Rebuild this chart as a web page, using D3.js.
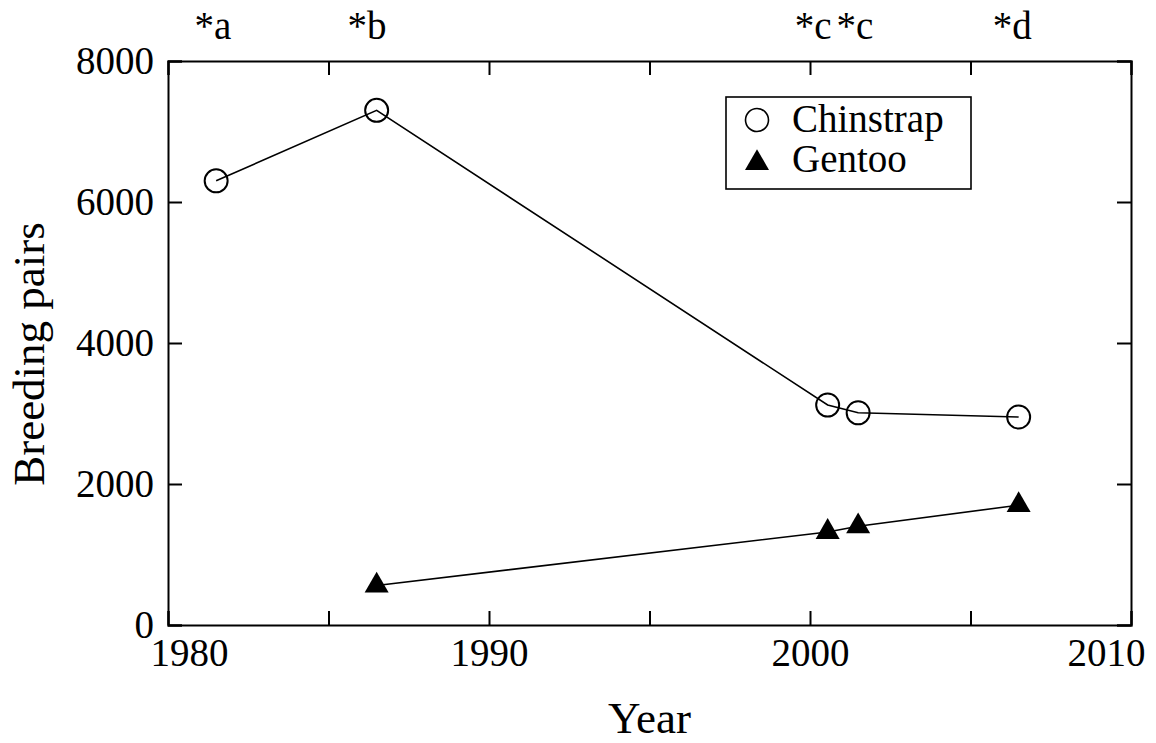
<!DOCTYPE html>
<html>
<head>
<meta charset="utf-8">
<script src="https://cdn.jsdelivr.net/npm/d3@7"></script>
<style>
  body { margin: 0; background: #fff; }
  svg text { font-family: "Liberation Serif", "Times New Roman", Times, "DejaVu Serif", serif !important; fill: #000; }
</style>
</head>
<body>
<div id="main"></div>
<script>
const ctx = {
    w: 1156,
    h: 743,
    left: 168,
    right: 1131,
    top: 61,
    bottom: 625
};

// data
const chinstrapYears = [1981.5, 1986.5, 2000.55, 2001.5, 2006.5];
const chinstrapPairs = [6300, 7300, 3120, 3010, 2950];
const gentooYears = [1986.5, 2000.55, 2001.5, 2006.5];
const gentooPairs = [560, 1320, 1400, 1700];
const noteLabels = ["*a", "*b", "*c", "*c", "*d"];
const noteYears = [1981.4, 1986.2, 2000.1, 2001.4, 2006.3];
const xTicks = [1980, 1985, 1990, 1995, 2000, 2005, 2010];
const yTicks = [0, 2000, 4000, 6000, 8000];

function createViz() {
    let svg = d3.select("#main").append("svg")
        .attr("width", ctx.w)
        .attr("height", ctx.h);

    let x = d3.scaleLinear().domain([1980, 2010]).range([ctx.left, ctx.right]);
    let y = d3.scaleLinear().domain([0, 8000]).range([ctx.bottom, ctx.top]);

    // axes, ticks pointing inward
    let bottomAxis = d3.axisBottom(x).tickValues(xTicks).tickSize(-14).tickPadding(13)
        .tickFormat(d => d % 10 == 0 ? d : "");
    let gb = svg.append("g").attr("transform", `translate(0,${ctx.bottom})`).call(bottomAxis);
    gb.selectAll("text")
        .attr("dx", d => d == 1980 ? 21 : (d == 2010 ? -25 : 0));

    svg.append("g").attr("transform", `translate(0,${ctx.top})`)
        .call(d3.axisTop(x).tickValues(xTicks).tickSize(-14).tickFormat(""));

    svg.append("g").attr("transform", `translate(${ctx.left},0)`)
        .call(d3.axisLeft(y).tickValues(yTicks).tickSize(-14).tickPadding(14).tickFormat(d3.format("d")));

    svg.append("g").attr("transform", `translate(${ctx.right},0)`)
        .call(d3.axisRight(y).tickValues(yTicks).tickSize(-14).tickFormat(""));

    svg.selectAll("g").attr("font-family", null);
    svg.selectAll(".domain").attr("stroke-width", 2);
    svg.selectAll(".tick line").attr("stroke-width", 2);
    svg.selectAll(".tick text").attr("font-size", 39);

    // axis titles
    svg.append("text")
        .attr("x", (ctx.left + ctx.right) / 2)
        .attr("y", 733)
        .attr("text-anchor", "middle")
        .attr("font-size", 45)
        .text("Year");

    svg.append("text")
        .attr("transform", "translate(44,354) rotate(-90)")
        .attr("text-anchor", "middle")
        .attr("font-size", 45)
        .text("Breeding pairs");

    // notes above the frame
    svg.selectAll(".note")
        .data(noteLabels)
        .enter()
        .append("text")
        .attr("class", "note")
        .attr("x", (d, i) => x(noteYears[i]))
        .attr("y", 39)
        .attr("text-anchor", "middle")
        .attr("font-size", 39)
        .text(d => d);

    let line = d3.line().x(d => x(d[0])).y(d => y(d[1]));
    let chin = chinstrapYears.map((yr, i) => [yr, chinstrapPairs[i]]);
    let gent = gentooYears.map((yr, i) => [yr, gentooPairs[i]]);

    svg.append("path").datum(chin).attr("d", line)
        .attr("fill", "none").attr("stroke", "black").attr("stroke-width", 1.6);
    svg.append("path").datum(gent).attr("d", line)
        .attr("fill", "none").attr("stroke", "black").attr("stroke-width", 1.6);

    svg.selectAll(".chin")
        .data(chin)
        .enter()
        .append("circle")
        .attr("class", "chin")
        .attr("cx", d => x(d[0]))
        .attr("cy", d => y(d[1]))
        .attr("r", 11.5)
        .attr("fill", "none")
        .attr("stroke", "black")
        .attr("stroke-width", 2);

    let tri = d3.symbol().type(d3.symbolTriangle).size(250);
    svg.selectAll(".gent")
        .data(gent)
        .enter()
        .append("path")
        .attr("class", "gent")
        .attr("transform", d => `translate(${x(d[0])},${y(d[1])})`)
        .attr("d", tri)
        .attr("fill", "black");

    // legend
    let lg = svg.append("g");
    lg.append("rect")
        .attr("x", 726).attr("y", 97)
        .attr("width", 245).attr("height", 92)
        .attr("fill", "white").attr("stroke", "black").attr("stroke-width", 1.6);
    lg.append("circle")
        .attr("cx", 757).attr("cy", 120).attr("r", 11.5)
        .attr("fill", "none").attr("stroke", "black").attr("stroke-width", 1.6);
    lg.append("path")
        .attr("transform", "translate(757,163)")
        .attr("d", tri).attr("fill", "black");
    lg.append("text").attr("x", 792).attr("y", 132).attr("font-size", 39).text("Chinstrap");
    lg.append("text").attr("x", 792).attr("y", 172).attr("font-size", 39).text("Gentoo");
}

createViz();
</script>
</body>
</html>
